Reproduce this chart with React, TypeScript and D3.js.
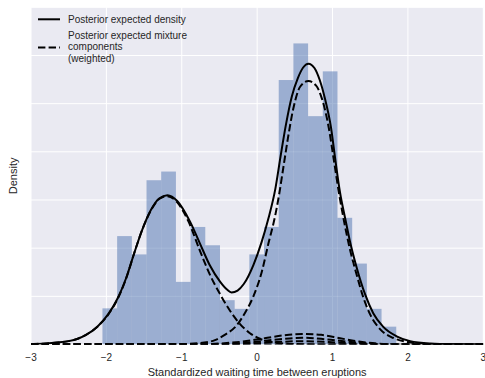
import React from 'react';
import * as d3 from 'd3';

// ---- Data ----
const xTicks = [-3, -2, -1, 0, 1, 2, 3];
const yGridValues = [0, 0.1, 0.2, 0.3, 0.4, 0.5, 0.6, 0.7];

const histMin = -2.052;
const histMax = 1.845;
const histDensity = [
  0.075, 0.225, 0.187, 0.341, 0.359, 0.13, 0.244, 0.206, 0.092, 0.074,
  0.187, 0.244, 0.549, 0.625, 0.474, 0.567, 0.263, 0.168, 0.074, 0.037,
];

const totalDensity: [number, number][] = [
  [-3, 0.001], [-2.8, 0.002], [-2.65, 0.004], [-2.5, 0.007], [-2.38, 0.012],
  [-2.27, 0.02], [-2.12, 0.037], [-1.98, 0.062], [-1.85, 0.096], [-1.74, 0.137],
  [-1.63, 0.19], [-1.52, 0.24], [-1.41, 0.279], [-1.3, 0.303], [-1.19, 0.31],
  [-1.06, 0.298], [-0.89, 0.255], [-0.76, 0.21], [-0.63, 0.165], [-0.49, 0.13],
  [-0.4, 0.114], [-0.34, 0.108], [-0.26, 0.112], [-0.18, 0.125], [-0.05, 0.165],
  [0.06, 0.213], [0.15, 0.262], [0.24, 0.322], [0.31, 0.39], [0.38, 0.455],
  [0.46, 0.515], [0.54, 0.553], [0.61, 0.575], [0.68, 0.583], [0.76, 0.574],
  [0.83, 0.549], [0.9, 0.51], [0.98, 0.45], [1.04, 0.38], [1.1, 0.315],
  [1.17, 0.26], [1.23, 0.215], [1.32, 0.16], [1.43, 0.105], [1.54, 0.065],
  [1.67, 0.037], [1.85, 0.017], [2.03, 0.007], [2.3, 0.002], [2.6, 0.0005], [3, 0],
];

const componentLeft: [number, number][] = [
  [-3, 0.001], [-2.8, 0.002], [-2.65, 0.004], [-2.5, 0.007], [-2.38, 0.012],
  [-2.27, 0.02], [-2.12, 0.037], [-1.98, 0.061], [-1.85, 0.095], [-1.74, 0.136],
  [-1.63, 0.19], [-1.52, 0.24], [-1.41, 0.278], [-1.3, 0.302], [-1.19, 0.308],
  [-1.06, 0.295], [-0.91, 0.255], [-0.76, 0.195], [-0.63, 0.146], [-0.49, 0.104],
  [-0.36, 0.07], [-0.23, 0.043], [-0.1, 0.024], [0.05, 0.011], [0.24, 0.004],
  [0.5, 0.001], [0.9, 0], [3, 0],
];

const componentRight: [number, number][] = [
  [-3, 0], [-1.0, 0.001], [-0.7, 0.004], [-0.56, 0.009], [-0.43, 0.02],
  [-0.27, 0.04], [-0.16, 0.066], [-0.05, 0.1], [0.06, 0.15], [0.15, 0.21],
  [0.24, 0.268], [0.29, 0.31], [0.35, 0.37], [0.41, 0.43], [0.48, 0.49],
  [0.57, 0.535], [0.68, 0.547], [0.78, 0.538], [0.86, 0.51], [0.95, 0.45],
  [1.02, 0.38], [1.09, 0.31], [1.16, 0.25], [1.23, 0.198], [1.32, 0.145],
  [1.41, 0.097], [1.5, 0.062], [1.63, 0.032], [1.8, 0.014], [2.0, 0.005],
  [2.3, 0.001], [3, 0],
];

const componentSmallA: [number, number][] = [
  [-3, 0], [-0.8, 0], [-0.5, 0.002], [-0.2, 0.006], [0.1, 0.013], [0.35, 0.019],
  [0.6, 0.022], [0.85, 0.02], [1.1, 0.013], [1.35, 0.006], [1.6, 0.002], [1.9, 0], [3, 0],
];
const componentSmallB: [number, number][] = [
  [-3, 0], [-0.6, 0], [-0.3, 0.002], [0, 0.006], [0.3, 0.011], [0.6, 0.014],
  [0.9, 0.011], [1.2, 0.006], [1.5, 0.002], [1.8, 0], [3, 0],
];
const componentSmallC: [number, number][] = [
  [-3, 0], [-0.4, 0], [-0.1, 0.002], [0.25, 0.005], [0.6, 0.007], [0.95, 0.005],
  [1.3, 0.002], [1.6, 0], [3, 0],
];
const componentFlat: [number, number][] = [[-3, 0], [3, 0]];

const components = [componentLeft, componentRight, componentSmallA, componentSmallB, componentSmallC, componentFlat];

const xLabel = 'Standardized waiting time between eruptions';
const yLabel = 'Density';
const legendSolid = ['Posterior expected density'];
const legendDashed = ['Posterior expected mixture', 'components', '(weighted)'];

// ---- Layout ----
const W = 485;
const H = 378;
const left = 31;
const right = 483.3;
const top = 7.3;
const bottom = 344.5;
const FONT = "'Liberation Sans', Arial, sans-serif";
const TEXT = '#262626';

export default function App() {
  const x = d3.scaleLinear().domain([-3, 3]).range([left, right]);
  const y = d3.scaleLinear().domain([0, 0.7]).range([bottom, top]);

  const nBins = histDensity.length;
  const binW = (histMax - histMin) / nBins;
  const bins = histDensity.map((d, i) => ({ x0: histMin + i * binW, x1: histMin + (i + 1) * binW, d }));

  const line = d3
    .line<[number, number]>()
    .x((p) => x(p[0]))
    .y((p) => y(p[1]))
    .curve(d3.curveMonotoneX);

  const dash = '7.4,3.2';

  return (
    <svg width={W} height={H} style={{ position: 'absolute', left: 0, top: 0, background: '#fff' }}>
      <defs>
        <clipPath id="plotclip">
          <rect x={left} y={top} width={right - left} height={bottom - top} />
        </clipPath>
      </defs>
      <rect x={left} y={top} width={right - left} height={bottom - top} fill="#EAEAF2" />
      {/* grid */}
      {xTicks.map((t) => (
        <line key={'gx' + t} x1={x(t)} x2={x(t)} y1={top} y2={bottom} stroke="#fff" strokeWidth={1} />
      ))}
      {yGridValues.map((t) => (
        <line key={'gy' + t} x1={left} x2={right} y1={y(t)} y2={y(t)} stroke="#fff" strokeWidth={1} />
      ))}
      <g clipPath="url(#plotclip)">
        {/* histogram */}
        {bins.map((b, i) => (
          <rect
            key={'b' + i}
            x={x(b.x0)}
            width={x(b.x1) - x(b.x0)}
            y={y(b.d)}
            height={y(0) - y(b.d)}
            fill="#4C72B0"
            fillOpacity={0.5}
          />
        ))}
        {/* components */}
        {components.map((c, i) => (
          <path key={'c' + i} d={line(c) || ''} fill="none" stroke="#000" strokeWidth={2} strokeDasharray={dash} />
        ))}
        {/* total density */}
        <path d={line(totalDensity) || ''} fill="none" stroke="#000" strokeWidth={2} />
      </g>
      {/* x tick labels */}
      {xTicks.map((t) => (
        <text
          key={'xt' + t}
          x={x(t)}
          y={360.5}
          textAnchor="middle"
          fontFamily={FONT}
          fontSize={10}
          fill={TEXT}
        >
          {t < 0 ? '\u2212' + Math.abs(t) : String(t)}
        </text>
      ))}
      <text x={(left + right) / 2} y={376} textAnchor="middle" fontFamily={FONT} fontSize={11} fill={TEXT}>
        {xLabel}
      </text>
      <text
        transform={`translate(17,${(top + bottom) / 2}) rotate(-90)`}
        textAnchor="middle"
        fontFamily={FONT}
        fontSize={11}
        fill={TEXT}
      >
        {yLabel}
      </text>
      {/* legend */}
      <g>
        <line x1={38} x2={60} y1={19.3} y2={19.3} stroke="#000" strokeWidth={2} />
        {legendSolid.map((s, i) => (
          <text key={'ls' + i} x={68} y={22.8} fontFamily={FONT} fontSize={10} fill={TEXT}>
            {s}
          </text>
        ))}
        <line x1={38} x2={60} y1={47.5} y2={47.5} stroke="#000" strokeWidth={2} strokeDasharray={dash} />
        {legendDashed.map((s, i) => (
          <text key={'ld' + i} x={68} y={38.5 + i * 11.6} fontFamily={FONT} fontSize={10} fill={TEXT}>
            {s}
          </text>
        ))}
      </g>
    </svg>
  );
}
